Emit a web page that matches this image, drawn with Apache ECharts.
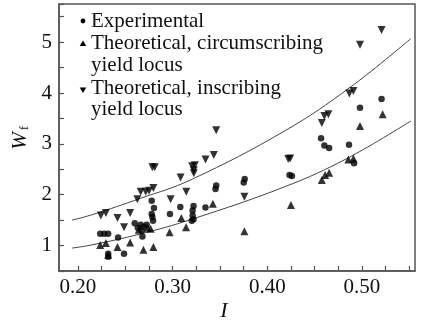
<!DOCTYPE html>
<html lang="en">
<head>
    <meta charset="UTF-8">
    <title>Wf vs I</title>
    <script type="text/javascript" src="https://cdn.jsdelivr.net/npm/echarts@6/dist/echarts.min.js"></script>
    <style>
        body { margin: 0; background: #fff; }
    </style>
</head>
<body>
<div id="main" style="width: 422px;height:323px;"></div>

<script type="text/javascript">
    // data: [I, Wf]
    var experimental = [
        [0.2235, 1.23], [0.2277, 1.23], [0.2319, 1.23], [0.232, 0.84], [0.232, 0.78],
        [0.2424, 1.16], [0.2487, 0.84], [0.2681, 1.18], [0.2632, 1.35], [0.2663, 1.41],
        [0.2695, 1.37], [0.2726, 1.41], [0.2674, 1.29], [0.26, 1.44], [0.2779, 1.88],
        [0.2803, 1.74], [0.2779, 1.62], [0.2786, 1.56], [0.2793, 1.49], [0.2972, 1.62],
        [0.3081, 1.76], [0.3221, 1.78], [0.3211, 1.69], [0.3211, 1.59], [0.3221, 1.52],
        [0.3203, 1.49], [0.3347, 1.75], [0.346, 2.18], [0.3453, 2.11], [0.3761, 2.31],
        [0.3751, 2.24], [0.4235, 2.39], [0.426, 2.37], [0.4568, 3.11], [0.4603, 2.97],
        [0.4653, 2.92], [0.4863, 2.98], [0.4916, 2.62], [0.4979, 3.71], [0.5207, 3.88]
    ];
    var circumscribing = [
        [0.2235, 1.01], [0.2295, 1.05], [0.2319, 0.82], [0.2418, 0.97], [0.2551, 1.06],
        [0.2692, 0.92], [0.2797, 0.97], [0.2642, 1.31], [0.2737, 1.35], [0.2768, 1.33],
        [0.2968, 1.26], [0.3092, 1.54], [0.3142, 1.36], [0.3425, 1.82], [0.3758, 1.28],
        [0.425, 1.80], [0.4576, 2.29], [0.4611, 2.39], [0.4653, 2.43], [0.4856, 2.69],
        [0.4909, 2.71], [0.4979, 3.35], [0.5218, 3.58]
    ];
    var inscribing = [
        [0.2242, 1.59], [0.2295, 1.64], [0.2418, 1.54], [0.2487, 1.36], [0.2551, 1.64],
        [0.2628, 1.91], [0.2663, 2.06], [0.2716, 2.06], [0.2751, 2.08], [0.2797, 2.13],
        [0.2786, 2.54], [0.2811, 2.54], [0.2979, 1.91], [0.3084, 2.34], [0.3144, 2.06],
        [0.3207, 2.56], [0.3235, 2.58], [0.3224, 2.48], [0.3224, 2.42], [0.3347, 2.69],
        [0.3435, 2.78], [0.346, 3.27], [0.3758, 1.96], [0.4242, 2.71], [0.4221, 2.70],
        [0.4576, 3.41], [0.4603, 3.55], [0.4645, 3.58], [0.4866, 3.99], [0.4909, 4.04],
        [0.4979, 4.95], [0.5207, 5.24]
    ];
    // fitted curves, traced points
    var upperCurve = [
        [0.1937, 1.50], [0.2137, 1.60], [0.2663, 1.93], [0.3189, 2.29],
        [0.4189, 3.26], [0.4874, 4.11], [0.5516, 5.07]
    ];
    var lowerCurve = [
        [0.1937, 0.95], [0.2137, 1.01], [0.2663, 1.23], [0.3189, 1.51],
        [0.4189, 2.16], [0.4839, 2.71], [0.5516, 3.45]
    ];
    var xTicks = [0.2, 0.225, 0.25, 0.275, 0.3, 0.325, 0.35, 0.375, 0.4, 0.425, 0.45, 0.475, 0.5, 0.525, 0.55];
    var xLabels = [0.2, 0.3, 0.4, 0.5];
    var yLabels = [1, 2, 3, 4, 5];
    var legendLines = ['Experimental', 'Theoretical, circumscribing', 'yield locus', 'Theoretical, inscribing', 'yield locus'];

    var serif = '"Liberation Serif", "DejaVu Serif", serif';
    var axisColor = '#555';

    var myChart = echarts.init(document.getElementById('main'));

    // legend text rows (middle of each line)
    var rowY = [21.5, 43.5, 65, 88, 109.5];
    var legendTexts = legendLines.map(function (t, i) {
        return {
            type: 'text', x: 91, y: rowY[i],
            style: { text: t, fill: '#111', font: '21px ' + serif, verticalAlign: 'middle' }
        };
    });

    var option = {
        animation: false,
        textStyle: { fontFamily: serif },
        grid: {
            left: 59, right: 7, top: 4, bottom: 52,
            show: true, borderColor: axisColor, borderWidth: 1.5
        },
        xAxis: {
            type: 'value',
            min: 0.18,
            max: 0.556,
            splitLine: { show: false },
            axisLine: { lineStyle: { color: axisColor, width: 1.5 } },
            axisTick: { inside: true, length: 5, customValues: xTicks, lineStyle: { color: axisColor, width: 1.2 } },
            axisLabel: {
                customValues: xLabels,
                margin: 6,
                color: '#111',
                fontSize: 21,
                fontFamily: serif,
                formatter: function (v) { return v.toFixed(2); }
            }
        },
        yAxis: {
            type: 'value',
            min: 0.5,
            max: 5.75,
            interval: 0.5,
            splitLine: { show: false },
            axisLine: { lineStyle: { color: axisColor, width: 1.5 } },
            axisTick: { inside: true, length: 5, lineStyle: { color: axisColor, width: 1.2 } },
            axisLabel: {
                customValues: yLabels,
                margin: 7,
                color: '#111',
                fontSize: 21,
                fontFamily: serif
            }
        },
        graphic: [
            // axis titles
            {
                type: 'text', x: 224, y: 311,
                style: { text: 'I', fill: '#111', font: 'italic 22px ' + serif, align: 'center', verticalAlign: 'middle' }
            },
            {
                type: 'group', x: 20, y: 137, rotation: Math.PI / 2,
                children: [
                    { type: 'text', x: -4, y: 0, style: { text: 'W', fill: '#111', font: 'italic 21px ' + serif, align: 'center', verticalAlign: 'middle' } },
                    { type: 'text', x: 9, y: 5, style: { text: 'f', fill: '#111', font: '12px ' + serif, align: 'center', verticalAlign: 'middle' } }
                ]
            },
            // legend symbols
            { type: 'circle', shape: { cx: 83, cy: 21, r: 2.4 }, style: { fill: '#000' } },
            { type: 'polygon', shape: { points: [[83, 40.5], [86.3, 46], [79.7, 46]] }, style: { fill: '#000' } },
            { type: 'polygon', shape: { points: [[79.7, 87.5], [86.3, 87.5], [83, 93]] }, style: { fill: '#000' } }
        ].concat(legendTexts),
        series: [
            {
                name: 'Upper fit', type: 'line', data: upperCurve, smooth: 0.4,
                symbol: 'none', lineStyle: { color: '#444', width: 1 }, z: 1
            },
            {
                name: 'Lower fit', type: 'line', data: lowerCurve, smooth: 0.4,
                symbol: 'none', lineStyle: { color: '#444', width: 1 }, z: 1
            },
            {
                name: 'Experimental', type: 'scatter', data: experimental,
                symbol: 'circle', symbolSize: 6.5, itemStyle: { color: '#000' }
            },
            {
                name: 'Theoretical, circumscribing yield locus', type: 'scatter', data: circumscribing,
                symbol: 'triangle', symbolSize: 8, itemStyle: { color: '#000' }
            },
            {
                name: 'Theoretical, inscribing yield locus', type: 'scatter', data: inscribing,
                symbol: 'triangle', symbolRotate: 180, symbolSize: 8, itemStyle: { color: '#000' }
            }
        ]
    };

    myChart.setOption(option);
</script>
</body>
</html>
